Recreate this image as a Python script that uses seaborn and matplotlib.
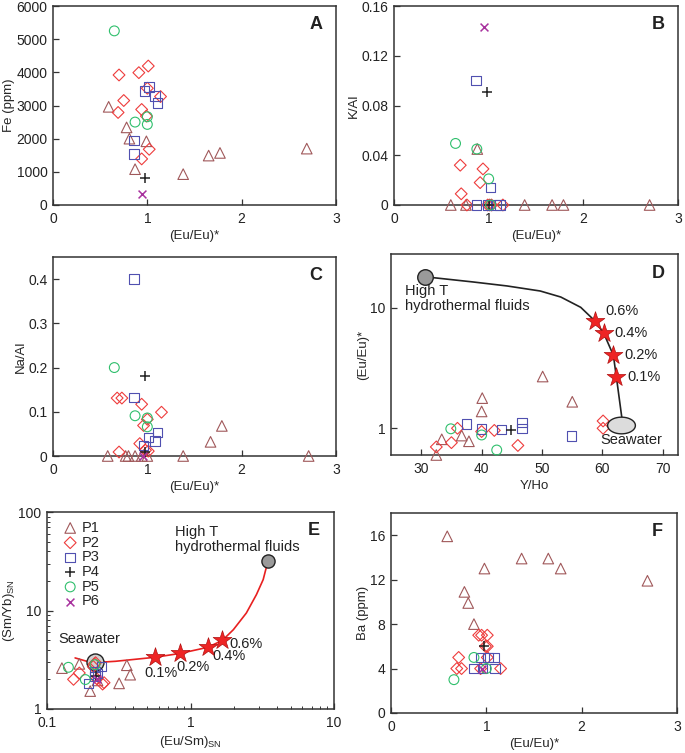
import numpy as np
import seaborn as sns
import matplotlib
matplotlib.use("Agg")
import matplotlib.pyplot as plt
from matplotlib.path import Path
from matplotlib.ticker import FuncFormatter, NullLocator, FixedLocator

# ---- data ----
# panel A : Fe (ppm) vs (Eu/Eu)*
A_P1_x = [0.59, 0.78, 0.81, 0.87, 0.99, 1.38, 1.65, 1.77, 2.69]
A_P1_y = [2960, 2340, 2000, 1080, 1920, 930, 1490, 1570, 1700]
A_P2_x = [0.70, 0.91, 1.01, 1.00, 0.75, 0.69, 0.94, 0.99, 1.14, 1.02, 0.94]
A_P2_y = [3920, 3990, 4190, 3520, 3150, 2790, 2880, 2680, 3270, 1680, 1390]
A_P3_x = [0.97, 1.02, 1.08, 1.11, 0.86, 0.86]
A_P3_y = [3440, 3550, 3290, 3070, 1940, 1530]
A_P4_x = [0.98]
A_P4_y = [825]
A_P5_x = [0.65, 0.87, 1.00, 1.00]
A_P5_y = [5250, 2500, 2660, 2430]
A_P6_x = [0.94]
A_P6_y = [330]

# panel B : K/Al
B_P1_x = [0.60, 0.76, 1.38, 1.67, 1.79, 2.70, 0.88]
B_P1_y = [0, 0, 0, 0, 0, 0, 0.045]
B_P2_x = [0.70, 0.94, 0.91, 0.71, 0.77, 0.99, 1.01, 1.03, 1.15]
B_P2_y = [0.032, 0.029, 0.018, 0.009, 0, 0, 0, 0, 0]
B_P3_x = [0.865, 1.02, 0.87, 0.99, 1.08, 1.12]
B_P3_y = [0.100, 0.014, 0, 0, 0, 0]
B_P4_x = [0.98, 1.00]
B_P4_y = [0.091, 0]
B_P5_x = [0.65, 0.875, 1.00, 1.02]
B_P5_y = [0.0495, 0.045, 0.021, 0]
B_P6_x = [0.95]
B_P6_y = [0.143]

# panel C : Na/Al
C_P1_x = [0.58, 0.77, 0.80, 0.87, 0.94, 1.00, 1.38, 2.71, 1.67, 1.79]
C_P1_y = [0, 0, 0, 0, 0, 0, 0, 0, 0.032, 0.068]
C_P2_x = [0.68, 0.73, 0.94, 1.15, 1.00, 0.96, 0.92, 0.70, 0.98, 1.01]
C_P2_y = [0.131, 0.131, 0.117, 0.099, 0.083, 0.069, 0.028, 0.009, 0.013, 0.011]
C_P3_x = [0.86, 0.86, 1.01, 1.11, 1.08, 0.96]
C_P3_y = [0.400, 0.132, 0.042, 0.053, 0.034, 0.024]
C_P4_x = [0.97, 0.98]
C_P4_y = [0.181, 0.008]
C_P5_x = [0.65, 0.87, 1.00, 1.00]
C_P5_y = [0.200, 0.091, 0.086, 0.066]
C_P6_x = [0.95]
C_P6_y = [0.0]

# panel D : (Eu/Eu)* vs Y/Ho
D_P1_x = [50.1, 40.1, 40.0, 55.0, 33.4, 36.7, 37.9, 32.5]
D_P1_y = [2.69, 1.78, 1.38, 1.66, 0.81, 0.87, 0.78, 0.60]
D_P2_x = [32.5, 35.0, 36.0, 40.0, 42.1, 46.0, 60.1, 60.1]
D_P2_y = [0.70, 0.76, 1.00, 0.94, 0.96, 0.72, 1.15, 1.00]
D_P3_x = [37.5, 40.0, 43.3, 46.7, 46.7, 54.9]
D_P3_y = [1.08, 0.99, 0.98, 1.12, 1.00, 0.86]
D_P4_x = [44.9]
D_P4_y = [0.97]
D_P5_x = [34.9, 40.0, 42.5]
D_P5_y = [0.99, 0.88, 0.66]
D_mix_x = [30.7, 38.6, 44.2, 49.7, 53.1, 56.4, 58.7, 60.2, 61.8, 62.3, 63.2]
D_mix_y = [18.1, 16.4, 15.2, 13.8, 12.3, 10.1, 7.83, 6.17, 4.04, 2.67, 1.23]
D_star_x = [58.7, 60.2, 61.8, 62.3]
D_star_y = [7.83, 6.17, 4.04, 2.67]
D_hot = (30.7, 18.1)
D_sea = (63.1, 1.07)

# panel E : (Sm/Yb)SN vs (Eu/Sm)SN
E_P1_x = [0.127, 0.168, 0.200, 0.318, 0.36, 0.38, 0.225]
E_P1_y = [2.60, 2.87, 1.52, 1.82, 2.78, 2.23, 1.95]
E_P2_x = [0.168, 0.153, 0.214, 0.223, 0.244, 0.21, 0.218, 0.25]
E_P2_y = [2.32, 2.00, 2.87, 2.02, 1.79, 2.70, 2.95, 1.85]
E_P3_x = [0.195, 0.216, 0.239, 0.216, 0.225]
E_P3_y = [1.81, 2.14, 2.71, 2.41, 2.30]
E_P4_x = [0.22]
E_P4_y = [2.15]
E_P5_x = [0.141, 0.185, 0.216]
E_P5_y = [2.65, 1.99, 2.82]
E_P6_x = [0.223]
E_P6_y = [2.00]
E_mix_x = [0.157, 0.205, 0.30, 0.566, 0.849, 1.32, 1.67, 1.99, 2.45, 2.88, 3.21, 3.38, 3.49]
E_mix_y = [3.30, 2.95, 3.05, 3.35, 3.67, 4.23, 4.98, 6.39, 9.43, 14.5, 20.6, 27.6, 32.1]
E_star_x = [0.566, 0.849, 1.32, 1.67]
E_star_y = [3.35, 3.67, 4.23, 4.98]
E_hot = (3.49, 32.1)
E_sea = (0.217, 3.0)

# panel F : Ba (ppm)
F_P1_x = [0.59, 0.77, 0.81, 0.87, 0.98, 1.37, 1.65, 1.78, 2.69]
F_P1_y = [15.9, 10.9, 9.9, 8.0, 13.0, 13.9, 13.9, 13.0, 11.9]
F_P2_x = [0.92, 0.95, 1.01, 0.99, 1.01, 0.71, 1.01, 0.69, 0.74, 0.94, 1.15]
F_P2_y = [7, 7, 7, 6, 6, 5, 5, 4, 4, 4, 4]
F_P3_x = [0.94, 1.02, 1.08, 0.87, 0.96, 1.09]
F_P3_y = [5, 5, 5, 4, 4, 4]
F_P4_x = [0.98]
F_P4_y = [6]
F_P5_x = [0.66, 0.87, 1.00]
F_P5_y = [3, 5, 4]
F_P6_x = [0.95]
F_P6_y = [4]

groups = ["P1", "P2", "P3", "P4", "P5", "P6"]
pct_labels = ["0.6%", "0.4%", "0.2%", "0.1%"]

STYLE = {
    "P1": ("^", "#a0585a"),
    "P2": ("D", "#ee3c3c"),
    "P3": ("s", "#5050b0"),
    "P4": ("+", "#222222"),
    "P5": ("o", "#2fbf6c"),
    "P6": ("x", "#a8329e"),
}
SIZE = {"^": 58, "D": 36, "s": 47, "+": 52, "o": 50, "x": 32}

sns.set_style("ticks")
plt.rcParams["font.family"] = ["Liberation Sans", "DejaVu Sans"]
plt.rcParams["mathtext.fontset"] = "custom"
plt.rcParams["mathtext.rm"] = "Liberation Sans"
plt.rcParams["xtick.direction"] = "in"
plt.rcParams["ytick.direction"] = "in"
plt.rcParams["xtick.color"] = "#333333"
plt.rcParams["ytick.color"] = "#333333"
plt.rcParams["axes.edgecolor"] = "#333333"

FS = 10
LFS = 9.5


def draw(ax, xs, ys, grp, label=None):
    m, c = STYLE[grp]
    kw = dict(x=xs, y=ys, marker=m, s=SIZE[m], ax=ax, clip_on=False,
              zorder=4, legend=False)
    if label:
        kw["label"] = label
    if m in ("+", "x"):
        sns.scatterplot(**kw, color=c, linewidth=1.1)
    else:
        sns.scatterplot(**kw, facecolor="none", edgecolor=c, linewidth=0.8)


def fmt(v, pos):
    if v == 0:
        return "0"
    return f"{v:g}"


def style_ax(ax, letter, xlab, ylab):
    for sp in ax.spines.values():
        sp.set_linewidth(1.1)
        sp.set_color("#333333")
    ax.tick_params(which="major", length=4, width=0.9, labelsize=FS,
                   labelcolor="#222222", top=False, right=False)
    ax.tick_params(axis="x", which="major", pad=5)
    ax.tick_params(axis="y", which="major", pad=4)
    ax.tick_params(which="minor", length=2.2, width=0.7, top=False, right=False)
    ax.set_xlabel(xlab, fontsize=LFS, labelpad=3)
    ax.set_ylabel(ylab, fontsize=LFS, labelpad=1)
    ax.text(0.93, 0.905, letter, transform=ax.transAxes, ha="center",
            va="center", fontsize=13, fontweight="bold", color="#222222")


fig = plt.figure(figsize=(6.85, 7.53), dpi=100)
W, H = 685.0, 753.0


def axes_px(x0, x1, y0, y1):
    return fig.add_axes([x0 / W, 1 - y1 / H, (x1 - x0) / W, (y1 - y0) / H])


axA = axes_px(53, 336, 6, 205)
axB = axes_px(394, 678, 6, 205)
axC = axes_px(53, 336, 257, 456)
axD = axes_px(391, 678, 254, 455)
axE = axes_px(47, 334, 512, 709)
axF = axes_px(391, 677, 513, 713)

# ---- A ----
for g, xs, ys in zip(groups, [A_P1_x, A_P2_x, A_P3_x, A_P4_x, A_P5_x, A_P6_x],
                     [A_P1_y, A_P2_y, A_P3_y, A_P4_y, A_P5_y, A_P6_y]):
    draw(axA, xs, ys, g)
axA.set_xlim(0, 3)
axA.set_ylim(0, 6000)
axA.set_xticks([0, 1, 2, 3])
axA.set_yticks(np.arange(0, 6001, 1000))
style_ax(axA, "A", "(Eu/Eu)*", "Fe (ppm)")

# ---- B ----
for g, xs, ys in zip(groups, [B_P1_x, B_P2_x, B_P3_x, B_P4_x, B_P5_x, B_P6_x],
                     [B_P1_y, B_P2_y, B_P3_y, B_P4_y, B_P5_y, B_P6_y]):
    draw(axB, xs, ys, g)
axB.set_xlim(0, 3)
axB.set_ylim(0, 0.16)
axB.set_xticks([0, 1, 2, 3])
axB.set_yticks([0, 0.04, 0.08, 0.12, 0.16])
axB.yaxis.set_major_formatter(FuncFormatter(fmt))
style_ax(axB, "B", "(Eu/Eu)*", "K/Al")

# ---- C ----
for g, xs, ys in zip(groups, [C_P1_x, C_P2_x, C_P3_x, C_P4_x, C_P5_x, C_P6_x],
                     [C_P1_y, C_P2_y, C_P3_y, C_P4_y, C_P5_y, C_P6_y]):
    draw(axC, xs, ys, g)
axC.set_xlim(0, 3)
axC.set_ylim(0, 0.45)
axC.set_xticks([0, 1, 2, 3])
axC.set_yticks([0, 0.1, 0.2, 0.3, 0.4])
axC.yaxis.set_major_formatter(FuncFormatter(fmt))
style_ax(axC, "C", "(Eu/Eu)*", "Na/Al")

# ---- D ----
sns.lineplot(x=D_mix_x, y=D_mix_y, sort=False, estimator=None, color="#222222",
             linewidth=1.2, ax=axD, zorder=2)
for g, xs, ys in zip(groups[:5], [D_P1_x, D_P2_x, D_P3_x, D_P4_x, D_P5_x],
                     [D_P1_y, D_P2_y, D_P3_y, D_P4_y, D_P5_y]):
    draw(axD, xs, ys, g)
sns.scatterplot(x=D_star_x, y=D_star_y, marker="*", s=200, color="#ee2424",
                edgecolor="#b01010", linewidth=0.5, ax=axD, zorder=5, legend=False)
for x, y, lab, dy in zip(D_star_x, D_star_y, pct_labels, [7, 0, 0, 0]):
    axD.annotate(lab, (x, y), xytext=(8, dy), textcoords="offset points",
                 ha="left", va="center", fontsize=10.5, color="#222222")
sns.scatterplot(x=[D_hot[0]], y=[D_hot[1]], marker="o", s=125, color="#9a9a9a",
                edgecolor="#222222", linewidth=1.0, ax=axD, zorder=5, legend=False)
t = np.linspace(0, 2 * np.pi, 60)
ellipse = Path(np.column_stack([np.cos(t), 0.6 * np.sin(t)]), closed=True)
sns.scatterplot(x=[D_sea[0]], y=[D_sea[1]], marker=ellipse, s=400, color="#dcdcdc",
                edgecolor="#222222", linewidth=1.0, ax=axD, zorder=5, legend=False)
axD.text(0.05, 0.85, "High T\nhydrothermal fluids", transform=axD.transAxes,
         ha="left", va="top", fontsize=10.5, color="#222222", linespacing=1.1)
axD.annotate("Seawater", D_sea, xytext=(-15, -11), textcoords="offset points",
             ha="left", va="center", fontsize=10.5, color="#222222")
axD.set_yscale("log")
axD.set_xlim(25, 72.5)
axD.set_ylim(0.6, 28)
axD.set_xticks([30, 40, 50, 60, 70])
axD.yaxis.set_major_locator(FixedLocator([1, 10]))
axD.yaxis.set_minor_locator(NullLocator())
axD.yaxis.set_major_formatter(FuncFormatter(fmt))
style_ax(axD, "D", "Y/Ho", "(Eu/Eu)*")

# ---- E ----
sns.lineplot(x=E_mix_x, y=E_mix_y, sort=False, estimator=None, color="#e82020",
             linewidth=1.2, ax=axE, zorder=2)
for g, xs, ys in zip(groups, [E_P1_x, E_P2_x, E_P3_x, E_P4_x, E_P5_x, E_P6_x],
                     [E_P1_y, E_P2_y, E_P3_y, E_P4_y, E_P5_y, E_P6_y]):
    draw(axE, xs, ys, g, label=g)
sns.scatterplot(x=[E_sea[0]], y=[E_sea[1]], marker="o", s=150, color="#d0d0d0",
                edgecolor="#222222", linewidth=1.0, ax=axE, zorder=3, legend=False)
sns.scatterplot(x=[E_hot[0]], y=[E_hot[1]], marker="o", s=90, color="#9a9a9a",
                edgecolor="#222222", linewidth=1.0, ax=axE, zorder=5, legend=False)
sns.scatterplot(x=E_star_x, y=E_star_y, marker="*", s=200, color="#ee2424",
                edgecolor="#b01010", linewidth=0.5, ax=axE, zorder=5, legend=False)
for x, y, lab, off in zip(E_star_x, E_star_y, pct_labels[::-1],
                          [(-8, -11), (-3, -10), (3, -6.5), (5, -2.5)]):
    axE.annotate(lab, (x, y), xytext=off, textcoords="offset points",
                 ha="left", va="center", fontsize=10.5, color="#222222")
axE.text(0.447, 0.935, "High T\nhydrothermal fluids", transform=axE.transAxes,
         ha="left", va="top", fontsize=10.5, color="#222222", linespacing=1.1)
axE.text(0.04, 0.355, "Seawater", transform=axE.transAxes,
         ha="left", va="center", fontsize=10.5, color="#222222")
axE.set_xscale("log")
axE.set_yscale("log")
axE.set_xlim(0.1, 10)
axE.set_ylim(1, 100)
axE.xaxis.set_major_formatter(FuncFormatter(fmt))
axE.yaxis.set_major_formatter(FuncFormatter(fmt))
style_ax(axE, "E", r"(Eu/Sm)$_{\mathregular{SN}}$", r"(Sm/Yb)$_{\mathregular{SN}}$")
axE.legend(loc="upper left", bbox_to_anchor=(0.03, 0.985), frameon=False,
           fontsize=10.5, handletextpad=0.2, labelspacing=0.05, borderaxespad=0,
           handlelength=1.2)

# ---- F ----
for g, xs, ys in zip(groups, [F_P1_x, F_P2_x, F_P3_x, F_P4_x, F_P5_x, F_P6_x],
                     [F_P1_y, F_P2_y, F_P3_y, F_P4_y, F_P5_y, F_P6_y]):
    draw(axF, xs, ys, g)
axF.set_xlim(0, 3)
axF.set_ylim(0, 18)
axF.set_xticks([0, 1, 2, 3])
axF.set_yticks([0, 4, 8, 12, 16])
style_ax(axF, "F", "(Eu/Eu)*", "Ba (ppm)")

fig.savefig("out.png", dpi=100)
